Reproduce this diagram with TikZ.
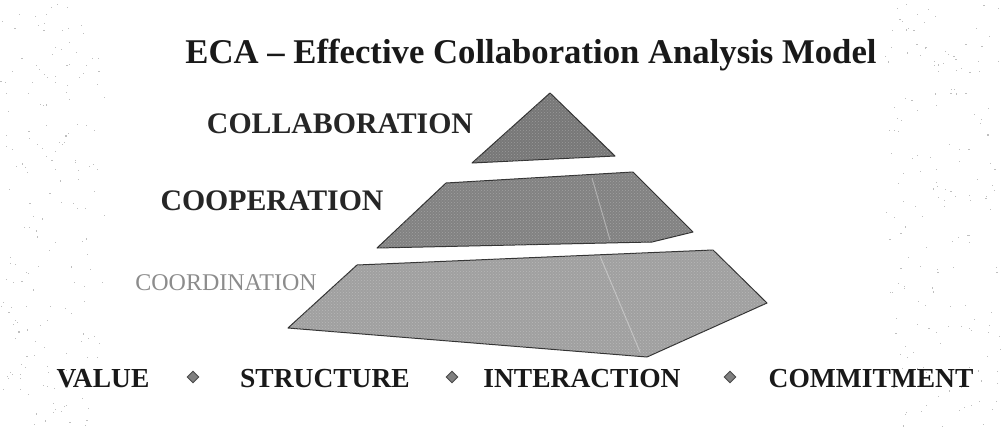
\documentclass[tikz,border=0pt]{standalone}
\usepackage{fontspec}
\setmainfont{Liberation Serif}
\usetikzlibrary{shapes.geometric,patterns}
\definecolor{pyrdark}{HTML}{787878}
\definecolor{pyrmid}{HTML}{828282}
\definecolor{pyrlight}{HTML}{A0A0A0}
\definecolor{edgecol}{HTML}{333333}
\tikzset{
  titletext/.style={anchor=base, inner sep=0pt, font=\fontsize{34.7}{38}\selectfont\bfseries, text=black!90},
  leveltext/.style={anchor=base, inner sep=0pt, font=\fontsize{29.8}{33}\selectfont\bfseries, text=black!85},
  lowtext/.style={anchor=base, inner sep=0pt, font=\fontsize{24}{27}\selectfont, text=black!45},
  valtext/.style={anchor=base, inner sep=0pt, font=\fontsize{27.5}{30}\selectfont\bfseries, text=black!90},
  sep/.style={diamond, fill=black!50, draw=black!70, line width=0.9pt, minimum width=12pt, minimum height=12pt, inner sep=0pt},
  slab/.style={draw=edgecol, line width=1pt, line join=round},
  grain/.style={pattern=crosshatch dots, pattern color=white, opacity=0.25},
  ridge/.style={draw=white, opacity=0.35, line width=1pt},
  speck/.style={fill=black!25}
}
\begin{document}
\begin{tikzpicture}[x=1pt,y=-1pt]
\useasboundingbox[fill=white] (0,0) rectangle (1001,426);
% faint scan speckle at the margins
\pgfmathsetseed{7}
\foreach \i in {1,...,180}{
  \pgfmathsetmacro{\sx}{rnd*105}
  \pgfmathsetmacro{\sy}{rnd*426}
  \fill[speck] (\sx,\sy) rectangle ++(1.1,1.1);
  \pgfmathsetmacro{\tx}{885+rnd*116}
  \pgfmathsetmacro{\ty}{rnd*426}
  \fill[speck] (\tx,\ty) rectangle ++(1.1,1.1);
}
% pyramid slabs
\path[slab, fill=pyrlight] (357,265) -- (713,250) -- (767,303) -- (647,357) -- (288,328) -- cycle;
\path[grain] (357,265) -- (713,250) -- (767,303) -- (647,357) -- (288,328) -- cycle;
\path[ridge] (600,256) -- (640,352);
\path[slab, fill=pyrmid] (446,183) -- (633,172) -- (693,232) -- (652,242) -- (377,248) -- cycle;
\path[grain] (446,183) -- (633,172) -- (693,232) -- (652,242) -- (377,248) -- cycle;
\path[ridge] (592,178) -- (610,240);
\path[slab, fill=pyrdark] (550,93) -- (615,156) -- (472,163) -- cycle;
\path[grain] (550,93) -- (615,156) -- (472,163) -- cycle;
% texts
\node[titletext] (title) at (531,63) {ECA – Effective Collaboration Analysis Model};
\node[leveltext] (collab) at (340,133) {COLLABORATION};
\node[leveltext] (coop) at (272,210) {COOPERATION};
\node[lowtext] (coord) at (226,290) {COORDINATION};
\node[valtext] (value) at (103,387) {VALUE};
\node[valtext] (structure) at (325,387) {STRUCTURE};
\node[valtext] (interaction) at (582,387) {INTERACTION};
\node[valtext] (commitment) at (871,387) {COMMITMENT};
\node[sep] (d1) at (193,377) {};
\node[sep] (d2) at (452,377) {};
\node[sep] (d3) at (730,377) {};
\end{tikzpicture}
\end{document}
